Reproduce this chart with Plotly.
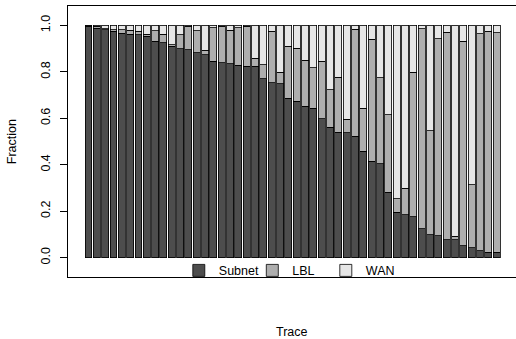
import plotly.graph_objects as go

# Fractions (per trace, sorted by Subnet share)
subnet = [0.995, 0.988, 0.980, 0.975, 0.965, 0.962, 0.960, 0.954, 0.931, 0.925,
          0.909, 0.900, 0.895, 0.881, 0.874, 0.845, 0.839, 0.835, 0.828, 0.823,
          0.823, 0.770, 0.753, 0.749, 0.687, 0.674, 0.652, 0.644, 0.598, 0.562,
          0.540, 0.537, 0.523, 0.457, 0.415, 0.404, 0.282, 0.195, 0.184, 0.177,
          0.124, 0.099, 0.095, 0.078, 0.078, 0.052, 0.042, 0.030, 0.023, 0.023]
subnet_plus_lbl = [0.998, 0.996, 0.985, 0.982, 0.980, 0.978, 0.975, 0.962, 0.976, 0.961,
                   0.917, 0.960, 0.995, 0.976, 0.892, 0.990, 0.995, 0.978, 0.990, 0.997,
                   0.859, 0.830, 0.974, 0.799, 0.911, 0.902, 0.849, 0.818, 0.846, 0.723,
                   0.777, 0.595, 0.983, 0.644, 0.940, 0.775, 0.616, 0.253, 0.299, 0.799,
                   0.986, 0.547, 0.943, 0.971, 0.092, 0.932, 0.313, 0.964, 0.974, 0.968]
lbl = [round(c - s, 4) for s, c in zip(subnet, subnet_plus_lbl)]
wan = [round(1 - c, 4) for c in subnet_plus_lbl]
traces = list(range(len(subnet)))

series = [("Subnet", subnet, "#4D4D4D"), ("LBL", lbl, "#AEAEAE"), ("WAN", wan, "#E6E6E6")]
ytick_vals = [0.0, 0.2, 0.4, 0.6, 0.8, 1.0]
ytick_text = ["0.0", "0.2", "0.4", "0.6", "0.8", "1.0"]

FONT = "Liberation Sans, Arial, Helvetica, sans-serif"
FS = 12.5

fig = go.Figure()
for name, vals, col in series:
    fig.add_trace(go.Bar(x=traces, y=vals, name=name, width=1 / 1.2,
                         marker=dict(color=col, line=dict(color="black", width=0.8))))

fig.update_layout(
    width=516, height=339,
    margin=dict(l=68, r=0, t=6, b=62),
    barmode="stack",
    plot_bgcolor="white", paper_bgcolor="white",
    font=dict(family=FONT, size=FS, color="black"),
    showlegend=True,
    legend=dict(orientation="h", x=0.494, xanchor="center", y=0.023, yanchor="middle",
                bgcolor="rgba(0,0,0,0)", traceorder="normal", itemwidth=30,
                entrywidth=28.5, entrywidthmode="pixels",
                font=dict(family=FONT, size=FS), itemclick=False),
    xaxis=dict(range=[-2.46, 51.32], showticklabels=False, ticks="", showgrid=False,
               zeroline=False, showline=True, linecolor="black", linewidth=1, mirror=True),
    yaxis=dict(range=[-0.0832, 1.0832], tickvals=ytick_vals, ticktext=ytick_text,
               tickangle=-90, ticks="outside", ticklen=7, tickcolor="black",
               ticklabelstandoff=5,
               showgrid=False, zeroline=False, showline=True, linecolor="black",
               linewidth=1, tickfont=dict(family=FONT, size=FS)),
    annotations=[
        dict(text="Fraction", xref="paper", yref="paper", x=(11.7 - 68) / 448, y=0.5,
             xanchor="center", yanchor="middle", textangle=-90, showarrow=False,
             font=dict(family=FONT, size=FS)),
        dict(text="Trace", xref="paper", yref="paper", x=(292 - 68) / 448, y=(277 - 332) / 271,
             xanchor="center", yanchor="middle", showarrow=False,
             font=dict(family=FONT, size=FS)),
    ],
)

fig.write_html("out.html", config={"displayModeBar": False},
               post_script="document.body.style.margin='0px';document.body.style.overflow='hidden';")
